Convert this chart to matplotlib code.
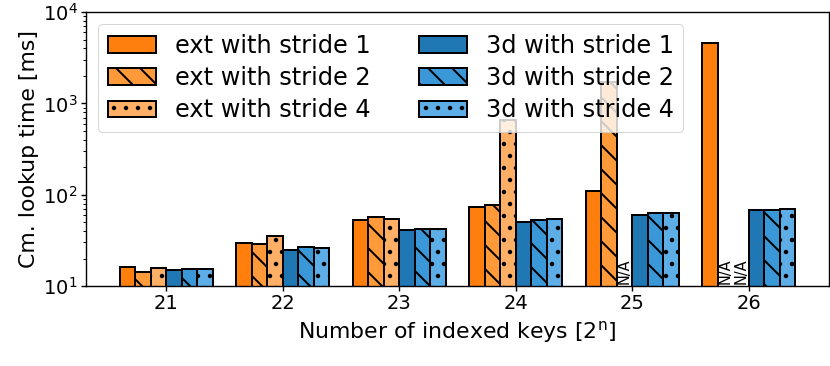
import numpy as np
import matplotlib.pyplot as plt

keys = [21, 22, 23, 24, 25, 26]

# lookup times in ms, None = N/A
ext_s1 = [16.0, 29.3, 52.8, 73.3, 110.0, 4540.0]
ext_s2 = [14.3, 28.8, 56.5, 77.1, 1726.0, None]
ext_s4 = [15.9, 35.3, 54.6, 650.0, None, None]
d3_s1 = [15.0, 24.8, 41.0, 50.2, 59.9, 67.9]
d3_s2 = [15.4, 26.7, 42.1, 52.8, 63.0, 67.5]
d3_s4 = [15.2, 26.1, 42.1, 54.2, 63.0, 69.2]

series = [
    ("ext with stride 1", ext_s1, "#ff7f0e", ""),
    ("ext with stride 2", ext_s2, "#ff9a3a", "\\"),
    ("ext with stride 4", ext_s4, "#ffb066", "."),
    ("3d with stride 1", d3_s1, "#1f77b4", ""),
    ("3d with stride 2", d3_s2, "#3a98d8", "\\"),
    ("3d with stride 4", d3_s4, "#5dade6", "."),
]

plt.rcParams["hatch.linewidth"] = 2.0

fig, ax = plt.subplots(figsize=(830 / 72, 366 / 72), dpi=72)
fig.subplots_adjust(left=0.1036, right=0.999, top=0.967, bottom=0.2186)

x = np.array(keys, dtype=float)
width = 0.8 / len(series)
for i, (label, vals, color, hatch) in enumerate(series):
    pos = x + (i - 2.5) * width
    heights = [v if v is not None else np.nan for v in vals]
    ax.bar(pos, heights, width, label=label, color=color, hatch=hatch,
           edgecolor="black", linewidth=2.0)
    for p, v in zip(pos, vals):
        if v is None:
            ax.text(p, 10.4, "N/A", rotation=90, ha="center", va="bottom",
                    fontsize=14.5)

ax.set_yscale("log")
ax.set_ylim(10, 10000)
ax.set_xticks(keys)
ax.tick_params(labelsize=19.5, width=1.4, length=5)
ax.tick_params(which="minor", width=1.0, length=3)
for s in ax.spines.values():
    s.set_linewidth(1.4)
ax.set_xlabel("Number of indexed keys [2$^\\mathregular{n}$]", fontsize=22,
              labelpad=6)
ax.set_ylabel("Cm. lookup time [ms]", fontsize=22)
ax.legend(ncol=2, loc="upper left", fontsize=24, labelspacing=0.35)

plt.savefig("out.png")
